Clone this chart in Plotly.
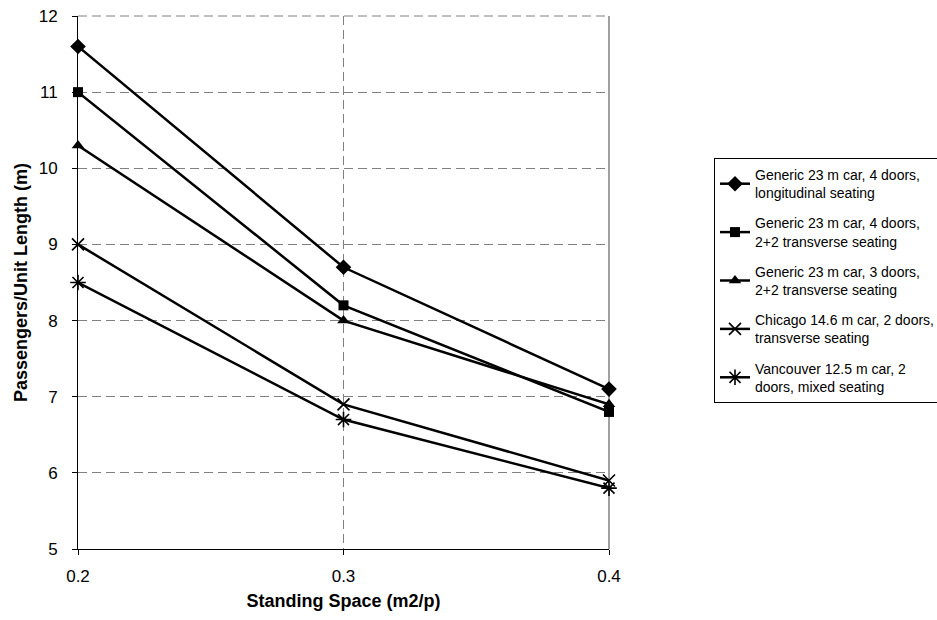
import plotly.graph_objects as go

# Standing space per passenger (m2/p)
standing_space = [0.2, 0.3, 0.4]

# Passengers per unit car length for each car layout
series_names = [
    "Generic 23 m car, 4 doors,<br>longitudinal seating",
    "Generic 23 m car, 4 doors,<br>2+2 transverse seating",
    "Generic 23 m car, 3 doors,<br>2+2 transverse seating",
    "Chicago 14.6 m car, 2 doors,<br>transverse seating",
    "Vancouver 12.5 m car, 2<br>doors, mixed seating",
]
generic_4d_long = [11.6, 8.7, 7.1]
generic_4d_trans = [11.0, 8.2, 6.8]
generic_3d_trans = [10.3, 8.0, 6.9]
chicago = [9.0, 6.9, 5.9]
vancouver = [8.5, 6.7, 5.8]
series_values = [generic_4d_long, generic_4d_trans, generic_3d_trans, chicago, vancouver]

y_ticks = [5, 6, 7, 8, 9, 10, 11, 12]
x_ticks = [0.2, 0.3, 0.4]

marker_styles = [
    dict(symbol="diamond", size=12, color="black"),
    dict(symbol="square", size=10, color="black"),
    dict(symbol="triangle-up", size=11, color="black"),
    dict(symbol="x-thin-open", size=12, color="black", line=dict(width=1.6, color="black")),
    dict(symbol="asterisk-open", size=13, color="black", line=dict(width=1.6, color="black")),
]

fig = go.Figure()
for i, (name, vals, mk) in enumerate(zip(series_names, series_values, marker_styles)):
    fig.add_trace(go.Scatter(
        x=standing_space, y=vals, name=name, mode="lines+markers",
        line=dict(color="black", width=2.5),
        marker=mk, cliponaxis=False, legendgroup=f"g{i}",
    ))

FAMILY = "Arial, Liberation Sans, sans-serif"
tick_font = dict(family=FAMILY, size=17, color="black")
title_font = dict(family=FAMILY, size=18, color="black")

fig.update_layout(
    width=937, height=620,
    margin=dict(l=78, r=328, t=16, b=71, autoexpand=False),
    paper_bgcolor="white", plot_bgcolor="white",
    font=tick_font,
    showlegend=True,
    legend=dict(
        x=(714 - 78) / 531, y=(549 - 158) / 533, xanchor="left", yanchor="top",
        bordercolor="black", borderwidth=1, bgcolor="white",
        font=dict(family=FAMILY, size=14, color="black"),
        tracegroupgap=9, itemwidth=30,
    ),
    xaxis=dict(
        range=[0.2, 0.4], tickvals=x_ticks, ticktext=[f"{v:.1f}" for v in x_ticks],
        showline=True, linecolor="black", linewidth=1,
        ticks="outside", ticklen=5, tickcolor="black", ticklabelstandoff=7,
        showgrid=True, gridcolor="#808080", gridwidth=1, griddash="9px,5px",
        zeroline=False, tickfont=tick_font,
        title=dict(text="<b>Standing Space (m2/p)</b>", font=title_font, standoff=8),
    ),
    yaxis=dict(
        range=[5, 12], tickvals=y_ticks,
        showline=True, linecolor="black", linewidth=1,
        ticks="outside", ticklen=5, tickcolor="black", ticklabelstandoff=11,
        showgrid=True, gridcolor="#808080", gridwidth=1, griddash="9px,5px",
        zeroline=False, tickfont=tick_font,
        title=dict(text="<b>Passengers/Unit Length (m)</b>", font=title_font, standoff=6),
    ),
)

# Plot-area frame: solid grey on the right, dashed grey along the top
fig.add_shape(type="line", xref="x domain", yref="y domain", x0=1, x1=1, y0=0, y1=1,
              line=dict(color="#808080", width=1.5), layer="below")
fig.add_shape(type="line", xref="x domain", yref="y domain", x0=0, x1=1, y0=1, y1=1,
              line=dict(color="#808080", width=1, dash="9px,5px"), layer="below")

fig.write_html("out.html")
